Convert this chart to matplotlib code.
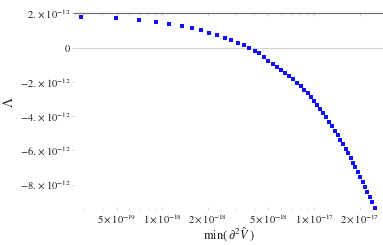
import matplotlib
matplotlib.use("Agg")
import matplotlib.pyplot as plt
from matplotlib.ticker import LogLocator, NullFormatter, FixedLocator

plt.rcParams['mathtext.fontset'] = 'stix'
plt.rcParams['font.family'] = ['Liberation Serif', 'DejaVu Serif']

# data
min_d2V = [2.91e-19, 4.96e-19, 7.03e-19, 9.06e-19, 1.113e-18, 1.343e-18, 1.569e-18,
           1.798e-18, 2.039e-18, 2.292e-18, 2.575e-18, 2.833e-18, 3.136e-18, 3.434e-18,
           3.738e-18, 4.057e-18, 4.350e-18, 4.656e-18, 4.985e-18, 5.329e-18, 5.661e-18,
           6.061e-18, 6.469e-18, 6.862e-18, 7.302e-18, 7.746e-18, 8.168e-18, 8.612e-18,
           9.039e-18, 9.517e-18, 9.976e-18, 1.0488e-17, 1.0991e-17, 1.1485e-17,
           1.2019e-17, 1.2559e-17, 1.3083e-17, 1.3671e-17, 1.4242e-17, 1.4836e-17,
           1.5409e-17, 1.6077e-17, 1.6722e-17, 1.7369e-17, 1.8011e-17, 1.8678e-17,
           1.9369e-17, 2.0085e-17, 2.0828e-17, 2.1566e-17, 2.2334e-17, 2.3197e-17,
           2.4092e-17, 2.4983e-17]
lambda_hat = [1.813e-12, 1.719e-12, 1.620e-12, 1.503e-12, 1.386e-12, 1.275e-12, 1.152e-12,
              1.018e-12, 0.877e-12, 0.743e-12, 0.591e-12, 0.444e-12, 0.281e-12, 0.129e-12,
              -0.023e-12, -0.175e-12, -0.327e-12, -0.556e-12, -0.778e-12, -0.971e-12,
              -1.146e-12, -1.316e-12, -1.480e-12, -1.655e-12, -1.848e-12, -2.047e-12,
              -2.251e-12, -2.462e-12, -2.673e-12, -2.895e-12, -3.117e-12, -3.351e-12,
              -3.585e-12, -3.830e-12, -4.076e-12, -4.327e-12, -4.585e-12, -4.848e-12,
              -5.111e-12, -5.380e-12, -5.643e-12, -5.912e-12, -6.181e-12, -6.450e-12,
              -6.725e-12, -7.000e-12, -7.281e-12, -7.567e-12, -7.854e-12, -8.146e-12,
              -8.439e-12, -8.731e-12, -9.041e-12, -9.357e-12]

x_ticks = [5e-19, 1e-18, 2e-18, 5e-18, 1e-17, 2e-17]
x_ticklabels = [r'$5\times10^{-19}$', r'$1\times10^{-18}$', r'$2\times10^{-18}$',
                r'$5\times10^{-18}$', r'$1\times10^{-17}$', r'$2\times10^{-17}$']
y_ticks = [2e-12, 0, -2e-12, -4e-12, -6e-12, -8e-12]
y_ticklabels = [r'$2.\times10^{-12}$', r'$0$', r'$-2.\times10^{-12}$', r'$-4.\times10^{-12}$',
                r'$-6.\times10^{-12}$', r'$-8.\times10^{-12}$']

W, H = 383, 245
fig = plt.figure(figsize=(W / 100, H / 100), dpi=100)
left_px, right_px, top_px, bot_px = 74, 383, 13.5, 210.15
ax = fig.add_axes([left_px / W, 1 - bot_px / H, (right_px - left_px) / W, (bot_px - top_px) / H])

ax.set_xscale('log')
ax.set_xlim(2.626e-19, 2.834e-17)
ax.set_ylim(-9.5e-12, 2e-12)

ax.axhline(0, color='#d4d4d4', lw=0.8, zorder=1)
ax.plot(min_d2V, lambda_hat, 's', color='#1010ff', markersize=2.4, markeredgewidth=0,
        clip_on=False, zorder=3)

for s in ['left', 'right', 'bottom']:
    ax.spines[s].set_visible(False)
ax.spines['top'].set_color('#707070')
ax.spines['top'].set_linewidth(0.9)

ax.xaxis.set_major_locator(FixedLocator(x_ticks))
ax.set_xticklabels(x_ticklabels)
ax.xaxis.set_minor_locator(LogLocator(base=10, subs=range(1, 10)))
ax.xaxis.set_minor_formatter(NullFormatter())
ax.tick_params(axis='x', which='both', bottom=True, top=True, direction='in',
               colors='#d0d0d0', labelcolor='#1a1a1a', labelsize=7.5, pad=2)
ax.tick_params(axis='x', which='major', length=2.0, width=0.6)
ax.tick_params(axis='x', which='minor', length=1.2, width=0.5)

ax.set_yticks(y_ticks)
ax.set_yticklabels(y_ticklabels)
ax.tick_params(axis='y', which='major', direction='out', length=1.5, width=0.6,
               colors='#c8c8c8', labelcolor='#1a1a1a', labelsize=7.5, pad=1)

fig.text(8 / W, 1 - 102 / H, r'$\hat{\Lambda}$', rotation=90, ha='center', va='center',
         fontsize=10, color='#1a1a1a')
fig.text(229 / W, 1 - 235 / H, r'$\mathrm{min}(\,\partial^2\hat{V}\ )$', ha='center',
         va='center', fontsize=9, color='#1a1a1a')

fig.savefig('out.png', dpi=100)
